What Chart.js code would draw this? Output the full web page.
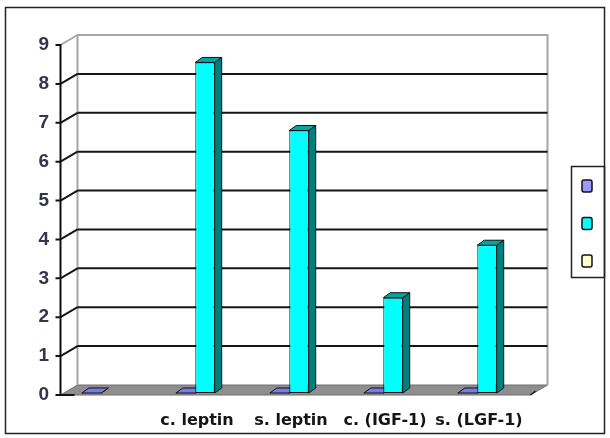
<!DOCTYPE html>
<html>
<head>
<meta charset="utf-8">
<script src="https://cdn.jsdelivr.net/npm/chart.js@4/dist/chart.umd.min.js"></script>
<style>
  html, body { margin: 0; padding: 0; background: #fff; }
  #c { display: block; }
</style>
</head>
<body>
<canvas id="c" width="610" height="438"></canvas>
<script>
// Categories along the floor and the three series (third series has no data)
const categories = ['', 'c. leptin', 's. leptin', 'c. (IGF-1)', 's. (LGF-1)'];
const seriesPurple = [0, 0, 0, 0, 0];
const seriesCyan = [null, 8.5, 6.75, 2.45, 3.8];
const seriesYellow = [null, null, null, null, null];
const yMin = 0, yMax = 9, yStep = 1;

// Face colours for the pseudo-3D columns: [front, side, top]
const faceColors = [
  ['#9999FF', '#6666CC', '#7C7CE6'],
  ['#00FFFF', '#007F7F', '#00A6A6'],
  ['#FFFFCC', '#CCCC99', '#E6E6B3']
];

// Geometry of the box: bar plane -> front plane, front -> back wall, bar thickness
const FRONT = { dx: -3.5, dy: 2 };
const DEPTH = { dx: 17, dy: -10 };
const BAR_D = { dx: 7, dy: -5 };

function poly(ctx, pts) {
  ctx.beginPath();
  ctx.moveTo(pts[0][0], pts[0][1]);
  for (let i = 1; i < pts.length; i++) ctx.lineTo(pts[i][0], pts[i][1]);
  ctx.closePath();
}

const box3d = {
  id: 'box3d',
  beforeDatasetsDraw(chart) {
    const { ctx, chartArea: a, scales: { y } } = chart;
    const fl = a.left + FRONT.dx, fr = a.right + FRONT.dx;
    const bl = fl + DEPTH.dx, br = fr + DEPTH.dx;
    const yf = v => y.getPixelForValue(v) + FRONT.dy;
    const yb = v => yf(v) + DEPTH.dy;
    ctx.save();

    // floor
    poly(ctx, [[fl, yf(yMin)], [fr, yf(yMin)], [br, yb(yMin)], [bl, yb(yMin)]]);
    ctx.fillStyle = '#8e8e8e';
    ctx.fill();
    ctx.strokeStyle = '#6f6f6f';
    ctx.lineWidth = 1;
    ctx.stroke();

    // back wall and left wall outlines
    ctx.strokeStyle = '#a6a6a6';
    ctx.lineWidth = 2;
    ctx.beginPath();
    ctx.moveTo(bl, yb(yMin)); ctx.lineTo(bl, yb(yMax)); ctx.lineTo(br, yb(yMax)); ctx.lineTo(br, yb(yMin));
    ctx.moveTo(fl, yf(yMax)); ctx.lineTo(bl, yb(yMax));
    ctx.stroke();

    // gridlines on the back wall and the left wall
    ctx.strokeStyle = '#161616';
    ctx.lineWidth = 2;
    for (let v = yMin + yStep; v < yMax; v += yStep) {
      ctx.beginPath();
      ctx.moveTo(bl, yb(v)); ctx.lineTo(br, yb(v));
      ctx.moveTo(fl, yf(v)); ctx.lineTo(bl, yb(v));
      ctx.stroke();
    }

    // right end marker of the floor
    ctx.lineWidth = 1.5;
    ctx.beginPath();
    ctx.moveTo(fr, yf(yMin)); ctx.lineTo(fr + 5, yf(yMin) - 4);
    ctx.stroke();

    // front value axis with tick marks
    ctx.strokeStyle = '#111';
    ctx.lineWidth = 2;
    ctx.beginPath();
    ctx.moveTo(fl, yf(yMax)); ctx.lineTo(fl, yf(yMin));
    for (let v = yMin; v <= yMax; v += yStep) {
      ctx.moveTo(fl - 5, yf(v)); ctx.lineTo(fl + 1, yf(v));
    }
    ctx.moveTo(fl, yf(yMin)); ctx.lineTo(fl + 14, yf(yMin));
    ctx.stroke();

    // side and top faces of every column (front faces are drawn by the library)
    chart.data.datasets.forEach((ds, di) => {
      const meta = chart.getDatasetMeta(di);
      meta.data.forEach((el, i) => {
        if (ds.data[i] === null || ds.data[i] === undefined) return;
        const x0 = el.x - el.width / 2, x1 = el.x + el.width / 2;
        const top = el.y, base = el.base;
        ctx.lineWidth = 1;
        ctx.strokeStyle = '#111';
        poly(ctx, [[x1, top], [x1 + BAR_D.dx, top + BAR_D.dy], [x1 + BAR_D.dx, base + BAR_D.dy], [x1, base]]);
        ctx.fillStyle = faceColors[di][1];
        ctx.fill(); ctx.stroke();
        poly(ctx, [[x0, top], [x1, top], [x1 + BAR_D.dx, top + BAR_D.dy], [x0 + BAR_D.dx, top + BAR_D.dy]]);
        ctx.fillStyle = faceColors[di][2];
        ctx.fill(); ctx.stroke();
      });
    });
    ctx.restore();
  },
  afterDraw(chart) {
    const { ctx } = chart;
    ctx.save();
    // legend box with colour keys only
    ctx.strokeStyle = '#222';
    ctx.lineWidth = 1.5;
    ctx.strokeRect(571.5, 166.5, 33, 111);
    chart.data.datasets.forEach((ds, di) => {
      const sx = 582, sy = 180 + di * 37.5;
      ctx.beginPath();
      ctx.roundRect(sx, sy, 10, 12, 2);
      ctx.fillStyle = ds.backgroundColor;
      ctx.fill();
      ctx.strokeStyle = '#111';
      ctx.lineWidth = 1.5;
      ctx.stroke();
    });
    // chart frame
    ctx.strokeStyle = '#222';
    ctx.lineWidth = 1.5;
    ctx.strokeRect(5.5, 7.5, 599, 426);
    ctx.restore();
  }
};

new Chart(document.getElementById('c'), {
  type: 'bar',
  data: {
    labels: categories,
    datasets: [
      { data: seriesPurple, backgroundColor: faceColors[0][0] },
      { data: seriesCyan, backgroundColor: faceColors[1][0] },
      { data: seriesYellow, backgroundColor: faceColors[2][0] }
    ]
  },
  options: {
    responsive: false,
    devicePixelRatio: 1,
    animation: false,
    layout: { padding: { left: 0, top: 43, right: 76, bottom: 0 } },
    datasets: {
      bar: {
        categoryPercentage: 0.62,
        barPercentage: 1,
        borderColor: '#111',
        borderWidth: 1,
        borderSkipped: false
      }
    },
    plugins: { legend: { display: false }, tooltip: { enabled: false } },
    scales: {
      x: {
        grid: { display: false },
        border: { display: false },
        ticks: {
          autoSkip: false,
          maxRotation: 0,
          padding: 10,
          labelOffset: -8,
          color: '#141414',
          font: { family: 'DejaVu Sans', weight: 'bold', size: 16 }
        },
        afterFit(s) { s.height = 45; }
      },
      y: {
        min: yMin,
        max: yMax,
        grid: { display: false },
        border: { display: false },
        ticks: {
          stepSize: yStep,
          padding: 7,
          labelOffset: 2,
          color: '#34344a',
          font: { family: 'Liberation Sans', weight: 'bold', size: 19 }
        },
        afterFit(s) { s.width = 64; }
      }
    }
  },
  plugins: [box3d]
});
</script>
</body>
</html>
